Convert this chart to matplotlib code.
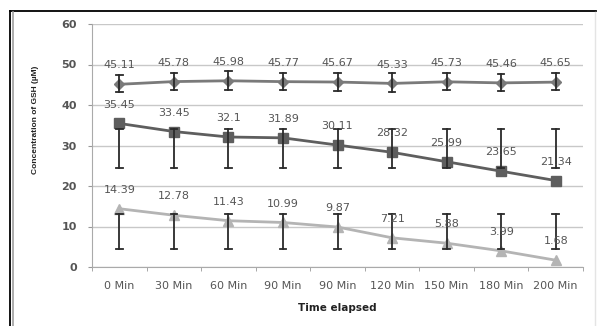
import matplotlib
matplotlib.use("Agg")
import matplotlib.pyplot as plt
import numpy as np

categories = ["0 Min", "30 Min", "60 Min", "90 Min", "90 Min", "120 Min", "150 Min", "180 Min", "200 Min"]

s1 = [45.11, 45.78, 45.98, 45.77, 45.67, 45.33, 45.73, 45.46, 45.65]
s1_lo = [43.3, 43.7, 43.7, 43.6, 43.4, 43.3, 43.6, 43.4, 43.6]
s1_hi = [47.4, 48.0, 48.3, 48.0, 47.8, 47.8, 47.9, 47.7, 47.8]

s2 = [35.45, 33.45, 32.1, 31.89, 30.11, 28.32, 25.99, 23.65, 21.34]
s2_lo = [24.5] * 9
s2_hi = [34.0] * 9

s3 = [14.39, 12.78, 11.43, 10.99, 9.87, 7.21, 5.88, 3.99, 1.68]
s3_lo = [4.4] * 9
s3_hi = [13.0] * 9

fig = plt.figure(figsize=(5.97, 3.26), dpi=100)
fig.patch.set_facecolor("white")

W, H = 597, 326
def fx(px): return px / W
def fy(py): return 1 - py / H

# outer frame (top and left black, inner gray line, faint right line)
fig.add_artist(plt.Line2D([fx(10), fx(596)], [fy(11), fy(11)], transform=fig.transFigure,
                          color="black", linewidth=1.3))
fig.add_artist(plt.Line2D([fx(10), fx(10)], [fy(11), fy(326)], transform=fig.transFigure,
                          color="black", linewidth=1.3))
fig.add_artist(plt.Line2D([fx(12.8), fx(12.8)], [fy(12), fy(326)], transform=fig.transFigure,
                          color="#a0a0a0", linewidth=1.2))
fig.add_artist(plt.Line2D([fx(595), fx(595)], [fy(12), fy(326)], transform=fig.transFigure,
                          color="#e4e4e4", linewidth=1.0))

ax = fig.add_axes([fx(92), fy(267), (583 - 92) / W, (267 - 24) / H])
x = np.arange(len(categories))

series = [
    (s1, s1_lo, s1_hi, "#7a7a7a", "D", 5),
    (s2, s2_lo, s2_hi, "#5e5e5e", "s", 7),
    (s3, s3_lo, s3_hi, "#b4b4b4", "^", 7),
]
for vals, lo, hi, col, mk, ms in series:
    v = np.array(vals)
    for xi, l, h in zip(x, lo, hi):
        ax.plot([xi, xi], [l, h], color="#2a2a2a", lw=1.3, zorder=4)
        ax.plot([xi - 0.06, xi + 0.06], [l, l], color="#2a2a2a", lw=1.3, zorder=4)
        ax.plot([xi - 0.06, xi + 0.06], [h, h], color="#2a2a2a", lw=1.3, zorder=4)
    ax.plot(x, v, color=col, lw=2, marker=mk, markersize=ms, zorder=3)
    for xi, yi in zip(x, v):
        ax.annotate(f"{yi:g}", (xi, yi), xytext=(0, 10), textcoords="offset points",
                    ha="center", va="bottom", fontsize=8, color="#555555", zorder=5)

ax.set_xlim(-0.5, len(categories) - 0.5)
ax.set_ylim(0, 60)
ax.set_yticks(range(0, 61, 10))
ax.set_xticks(x)
ax.set_xticklabels(categories)
ax.set_xticks(np.arange(-0.5, len(categories), 1), minor=True)
ax.tick_params(axis="x", which="major", length=0, pad=10, labelsize=8, labelcolor="#555555")
ax.tick_params(axis="x", which="minor", length=3, color="#999999", direction="out")
ax.tick_params(axis="y", length=3, color="#999999", labelsize=8, labelcolor="#555555", pad=8)
for lbl in ax.get_yticklabels():
    lbl.set_fontweight("bold")
ax.grid(axis="y", color="#c8c8c8", lw=1)
ax.set_axisbelow(True)
for s in ["top", "right"]:
    ax.spines[s].set_visible(False)
for s in ["left", "bottom"]:
    ax.spines[s].set_color("#aaaaaa")

ax.set_xlabel("Time elapsed", fontsize=7.5, fontweight="bold", color="#222222", labelpad=9)
ax.set_ylabel("Concentration of GSH (\u00b5M)", fontsize=6, fontweight="bold", color="#222222",
              family=["Liberation Sans", "DejaVu Sans"])
ax.yaxis.set_label_coords(-0.108, 0.605)

fig.savefig("out.png", dpi=100)
